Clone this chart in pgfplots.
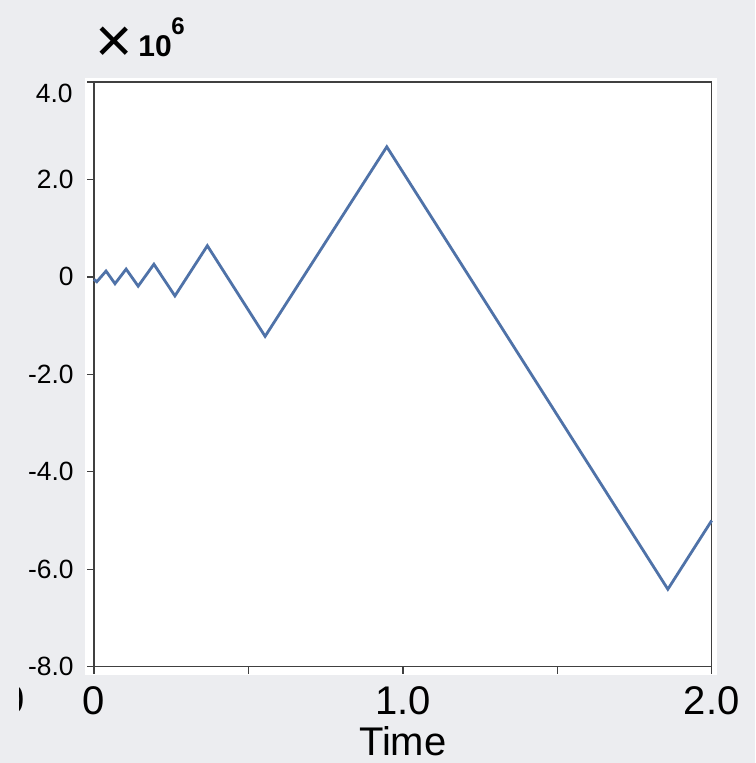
\documentclass[border=0pt]{standalone}
\usepackage{pgfplots}
\pgfplotsset{compat=1.18}
\usepackage{fontspec}
\setmainfont{Liberation Sans}
\definecolor{bgc}{HTML}{ECEDF0}
\definecolor{linec}{HTML}{4F72A8}
\definecolor{axc}{HTML}{404040}
\begin{document}
\begin{tikzpicture}
\clip (0,0) rectangle (377.5pt,381.5pt);
\fill[bgc] (0,0) rectangle (377.5pt,381.5pt);
\fill[white] (42.5pt,44pt) rectangle (358.5pt,342.5pt);
\begin{axis}[
  at={(47pt,48.15pt)}, anchor=south west,
  scale only axis, width=308.85pt, height=292.35pt,
  xmin=0, xmax=2, ymin=-8, ymax=4,
  axis line style={axc, line width=0.7pt},
  tick style={axc, line width=0.7pt},
  tick align=outside, major tick length=3.5pt,
  xtick={0,0.5,1,1.5,2}, xticklabels={0,,1.0,,2.0},
  ytick={-8,-6,-4,-2,0,2,4}, yticklabels={-8.0,-6.0,-4.0,-2.0,0,2.0,},
  xtick pos=bottom, ytick pos=left,
  scaled ticks=false,
  xticklabel style={font=\fontsize{20}{22}\selectfont, inner sep=0pt, yshift=-6pt},
  yticklabel style={font=\fontsize{13.2}{15}\selectfont, inner sep=0pt, xshift=-6.5pt},
  /pgf/number format/assume math mode=true,
  xlabel={Time},
  xlabel style={font=\fontsize{20}{22}\selectfont, inner sep=0pt, yshift=-6pt},
  clip=false,
]
\addplot[linec, line width=1.4pt, line join=miter] coordinates {
(0,-0.05) (0.009,-0.10) (0.039,0.12) (0.068,-0.14) (0.104,0.16) (0.143,-0.19)
(0.194,0.26) (0.262,-0.39) (0.367,0.64) (0.554,-1.22) (0.948,2.67) (1.858,-6.41) (2.0,-5.0)
};
\node[anchor=east, inner sep=0pt, font=\fontsize{13.2}{15}\selectfont] at ([xshift=-10.5pt,yshift=-5.5pt]axis cs:0,4) {4.0};
\end{axis}
\node[inner sep=0pt, font=\fontsize{32}{34}\selectfont] at (57pt,359pt) {×};
\node[anchor=base west, inner sep=0pt, font=\fontsize{15}{16}\selectfont\bfseries] at (69pt,353pt) {10};
\node[anchor=base west, inner sep=0pt, font=\fontsize{12}{14}\selectfont\bfseries] at (85.5pt,364pt) {6};
\begin{scope}
\clip (9.8pt,0) rectangle (14pt,60pt);
\node[anchor=base east, inner sep=0pt, font=\fontsize{20}{22}\selectfont] at (12.8pt,24.5pt) {0};
\end{scope}
\end{tikzpicture}
\end{document}
